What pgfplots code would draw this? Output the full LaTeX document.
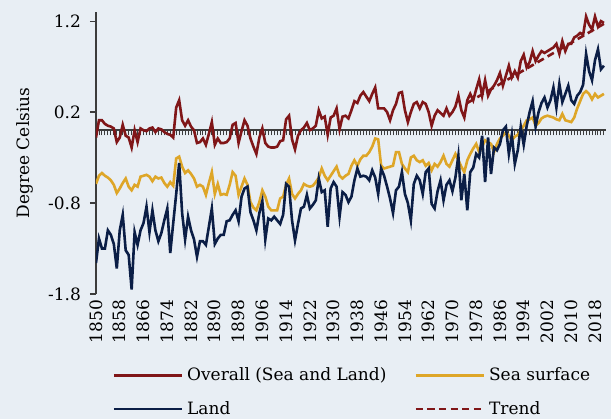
\documentclass[border=0pt]{standalone}
\usepackage{fontspec}
\setmainfont{DejaVu Serif}
\usepackage{pgfplots}
\usepackage{pgfplotstable}
\pgfplotsset{compat=1.18}

\definecolor{bgc}{HTML}{E8EEF4}
\definecolor{overallred}{RGB}{128,22,24}
\definecolor{seagold}{RGB}{222,166,40}
\definecolor{landnavy}{RGB}{11,30,70}
\definecolor{axisgray}{RGB}{60,60,60}

% year, overall (sea and land), sea surface, land
\pgfplotstableread{
year overall sea land
1850 -0.08 -0.59 -1.46
1851 0.11 -0.50 -1.19
1852 0.11 -0.47 -1.30
1853 0.07 -0.50 -1.30
1854 0.05 -0.52 -1.10
1855 0.04 -0.55 -1.15
1856 0.02 -0.60 -1.25
1857 -0.13 -0.69 -1.52
1858 -0.08 -0.64 -1.10
1859 0.06 -0.58 -0.93
1860 -0.06 -0.53 -1.32
1861 -0.08 -0.62 -1.37
1862 -0.19 -0.66 -1.75
1863 0.00 -0.60 -1.12
1864 -0.13 -0.62 -1.26
1865 0.02 -0.51 -1.10
1866 0.00 -0.50 -1.02
1867 -0.01 -0.49 -0.84
1868 0.02 -0.51 -1.12
1869 0.03 -0.56 -0.88
1870 -0.02 -0.51 -1.10
1871 0.02 -0.53 -1.22
1872 0.01 -0.52 -1.13
1873 -0.02 -0.58 -0.99
1874 -0.04 -0.62 -0.86
1875 -0.05 -0.57 -1.35
1876 -0.08 -0.61 -1.02
1877 0.25 -0.31 -0.70
1878 0.33 -0.29 -0.36
1879 0.11 -0.40 -0.91
1880 0.05 -0.47 -1.20
1881 0.11 -0.44 -0.95
1882 0.04 -0.48 -1.10
1883 0.00 -0.53 -1.20
1884 -0.14 -0.62 -1.39
1885 -0.13 -0.60 -1.22
1886 -0.09 -0.62 -1.22
1887 -0.16 -0.71 -1.26
1888 -0.04 -0.58 -1.06
1889 0.09 -0.46 -0.86
1890 -0.16 -0.70 -1.25
1891 -0.09 -0.59 -1.19
1892 -0.14 -0.71 -1.15
1893 -0.14 -0.70 -1.15
1894 -0.13 -0.71 -1.00
1895 -0.09 -0.60 -0.99
1896 0.06 -0.46 -0.93
1897 0.08 -0.50 -0.88
1898 -0.14 -0.71 -1.00
1899 -0.01 -0.62 -0.73
1900 0.11 -0.53 -0.64
1901 0.05 -0.60 -0.62
1902 -0.09 -0.79 -0.90
1903 -0.18 -0.85 -0.99
1904 -0.26 -0.88 -1.10
1905 -0.08 -0.79 -0.91
1906 0.02 -0.66 -0.78
1907 -0.14 -0.73 -1.20
1908 -0.18 -0.84 -0.97
1909 -0.19 -0.88 -0.99
1910 -0.19 -0.88 -0.95
1911 -0.18 -0.88 -0.99
1912 -0.12 -0.75 -1.03
1913 -0.11 -0.73 -0.93
1914 0.12 -0.60 -0.59
1915 0.16 -0.53 -0.62
1916 -0.10 -0.70 -0.99
1917 -0.21 -0.75 -1.21
1918 -0.06 -0.70 -1.03
1919 0.00 -0.66 -0.86
1920 0.03 -0.59 -0.84
1921 0.08 -0.61 -0.71
1922 0.00 -0.62 -0.86
1923 0.02 -0.61 -0.82
1924 0.05 -0.57 -0.77
1925 0.22 -0.52 -0.53
1926 0.13 -0.42 -0.68
1927 0.15 -0.50 -0.66
1928 -0.05 -0.55 -1.06
1929 0.14 -0.50 -0.64
1930 0.16 -0.45 -0.57
1931 0.24 -0.40 -0.62
1932 0.01 -0.50 -0.95
1933 0.15 -0.53 -0.68
1934 0.16 -0.50 -0.71
1935 0.13 -0.48 -0.79
1936 0.22 -0.39 -0.73
1937 0.32 -0.33 -0.55
1938 0.30 -0.39 -0.42
1939 0.38 -0.32 -0.51
1940 0.42 -0.28 -0.50
1941 0.37 -0.28 -0.51
1942 0.32 -0.24 -0.55
1943 0.40 -0.18 -0.44
1944 0.47 -0.09 -0.52
1945 0.24 -0.10 -0.70
1946 0.24 -0.39 -0.42
1947 0.24 -0.42 -0.50
1948 0.20 -0.41 -0.62
1949 0.11 -0.40 -0.75
1950 0.22 -0.39 -0.91
1951 0.29 -0.24 -0.66
1952 0.41 -0.24 -0.62
1953 0.42 -0.37 -0.46
1954 0.22 -0.42 -0.70
1955 0.09 -0.46 -0.80
1956 0.20 -0.30 -0.99
1957 0.29 -0.28 -0.59
1958 0.31 -0.33 -0.50
1959 0.24 -0.35 -0.55
1960 0.31 -0.33 -0.70
1961 0.29 -0.39 -0.46
1962 0.20 -0.36 -0.42
1963 0.05 -0.44 -0.81
1964 0.16 -0.37 -0.86
1965 0.22 -0.40 -0.67
1966 0.19 -0.35 -0.55
1967 0.16 -0.28 -0.77
1968 0.24 -0.37 -0.60
1969 0.16 -0.40 -0.55
1970 0.20 -0.33 -0.67
1971 0.26 -0.26 -0.52
1972 0.38 -0.33 -0.28
1973 0.22 -0.40 -0.77
1974 0.14 -0.46 -0.48
1975 0.33 -0.33 -0.88
1976 0.40 -0.26 -0.46
1977 0.33 -0.20 -0.41
1978 0.45 -0.15 -0.26
1979 0.56 -0.24 -0.30
1980 0.38 -0.18 -0.06
1981 0.55 -0.11 -0.57
1982 0.38 -0.13 -0.08
1983 0.45 -0.15 -0.48
1984 0.49 -0.24 -0.19
1985 0.55 -0.15 -0.22
1986 0.63 -0.09 -0.15
1987 0.49 -0.06 0.00
1988 0.60 -0.02 0.04
1989 0.71 -0.06 -0.26
1990 0.58 -0.11 -0.05
1991 0.65 -0.07 -0.37
1992 0.58 -0.05 -0.22
1993 0.76 0.00 0.04
1994 0.83 0.05 -0.16
1995 0.69 0.11 0.05
1996 0.75 0.12 0.20
1997 0.87 0.14 0.32
1998 0.76 0.05 0.04
1999 0.82 0.08 0.20
2000 0.87 0.13 0.30
2001 0.85 0.15 0.36
2002 0.87 0.16 0.25
2003 0.89 0.15 0.33
2004 0.91 0.14 0.47
2005 0.95 0.12 0.25
2006 0.84 0.11 0.51
2007 0.98 0.18 0.31
2008 0.87 0.11 0.40
2009 0.95 0.10 0.49
2010 0.95 0.09 0.33
2011 1.02 0.14 0.29
2012 1.04 0.24 0.38
2013 1.07 0.32 0.42
2014 1.05 0.40 0.50
2015 1.25 0.43 0.84
2016 1.16 0.40 0.65
2017 1.11 0.34 0.55
2018 1.25 0.40 0.77
2019 1.14 0.36 0.89
2020 1.20 0.38 0.67
2021 1.18 0.40 0.71
}\tempdata

\pgfplotsset{
  commonaxis/.style={
    at={(0,0)}, anchor=south west, scale only axis,
    width=255pt, height=141pt,
    xmin=1850, xmax=2021.7, ymin=-1.8, ymax=1.3,
  },
}

\begin{document}
\fontsize{8.5}{10.2}\selectfont
\begin{tikzpicture}
\path[use as bounding box, fill=bgc] (-48pt,-62.5pt) rectangle (257.5pt,147pt);

% zero line with a tick for every year
\begin{axis}[commonaxis,
  axis x line=middle, axis y line=none,
  x axis line style={-, draw=axisgray, line width=0.9pt},
  xtick={1850,...,2021}, xticklabels={},
  ytick=\empty,
  xtick align=outside, major tick length=2.5pt,
  xtick style={draw=axisgray, line width=0.45pt},
]
\end{axis}

\begin{axis}[commonaxis,
  axis y line*=left, axis x line*=bottom,
  x axis line style={draw=none},
  y axis line style={-, draw=axisgray, line width=0.6pt},
  xtick={1850,1858,...,2018},
  xtick style={draw=none},
  ytick={-1.8,-0.8,0.2,1.2},
  yticklabels={-1.8,-0.8,0.2,1.2},
  ytick align=outside, major tick length=3pt,
  ytick style={draw=axisgray, line width=0.6pt},
  yticklabel style={xshift=-1.5pt},
  xticklabel style={rotate=90, anchor=east, /pgf/number format/1000 sep=},
  /pgf/number format/assume math mode=true,
  ylabel={Degree Celsius},
  ylabel style={at={(axis description cs:-0.139,0.5)}, anchor=center},
  legend columns=2,
  legend cell align=left,
  legend style={at={(axis description cs:0.02,-0.232)}, anchor=north west,
    draw=none, fill=none, row sep=5pt,
    /tikz/every even column/.append style={column sep=12pt}},
  legend image code/.code={\draw[#1] (0pt,0pt) -- (34pt,0pt);},
  every axis plot/.append style={line width=1.3pt},
]
\addplot[overallred, no markers] table[x=year, y=overall] {\tempdata};
\addlegendentry{Overall (Sea and Land)}
\addplot[seagold, no markers] table[x=year, y=sea] {\tempdata};
\addlegendentry{Sea surface}
\addplot[landnavy, no markers] table[x=year, y=land] {\tempdata};
\addlegendentry{Land}
\addplot[overallred, dash pattern=on 3.6pt off 2.2pt, no markers] coordinates {(1975,0.30) (2021,1.17)};
\addlegendentry{Trend}
\end{axis}
\end{tikzpicture}
\end{document}
